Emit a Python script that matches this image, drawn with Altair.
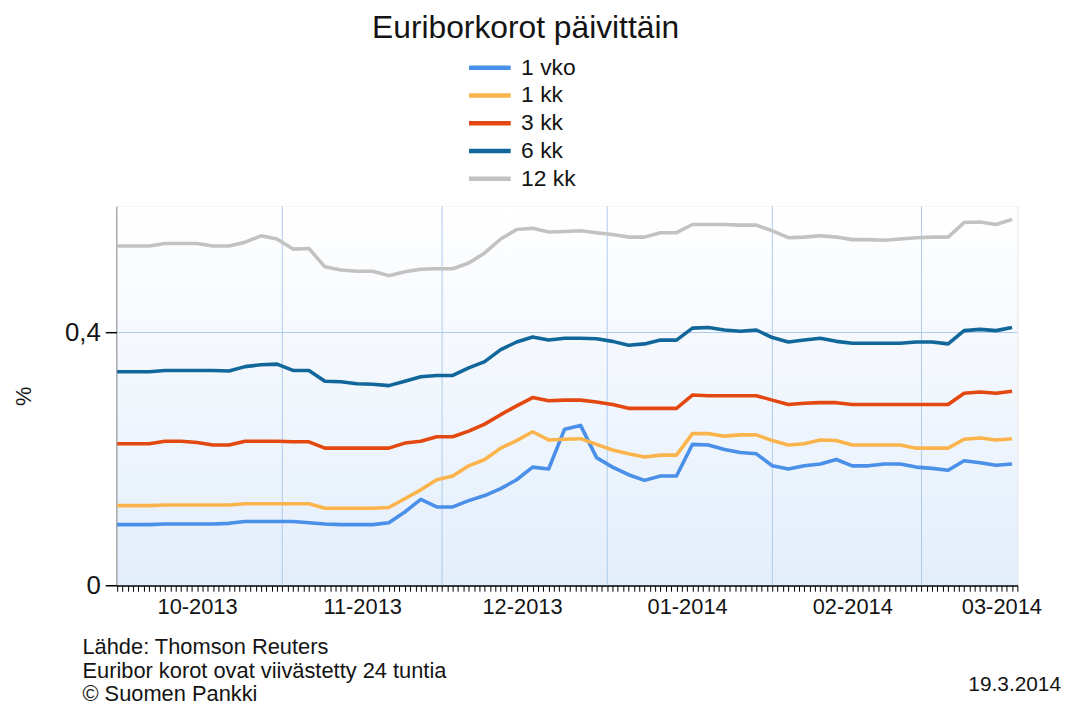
import altair as alt
import pandas as pd

# ---------------- data ----------------
series_names = ["1 vko", "1 kk", "3 kk", "6 kk", "12 kk"]
series_colors = ["#4a8fe8", "#fbb44c", "#e2480f", "#12679a", "#c2c2c2"]

# every third calendar day, 1.10.2013 ... 18.3.2014
dates = [d.strftime("%Y-%m-%d") for d in pd.date_range("2013-10-01", periods=57, freq="3D")]

vko1 = [0.096, 0.096, 0.096, 0.097, 0.097, 0.097, 0.097, 0.098, 0.101, 0.101,
        0.101, 0.101, 0.099, 0.097, 0.096, 0.096, 0.096, 0.099, 0.116, 0.136,
        0.124, 0.124, 0.134, 0.142, 0.153, 0.167, 0.187, 0.184, 0.247, 0.253,
        0.202, 0.187, 0.175, 0.166, 0.173, 0.173, 0.223, 0.222, 0.215, 0.210,
        0.208, 0.189, 0.184, 0.189, 0.192, 0.199, 0.189, 0.189, 0.192, 0.192,
        0.187, 0.185, 0.182, 0.197, 0.194, 0.190, 0.192]
kk1 = [0.126, 0.126, 0.126, 0.127, 0.127, 0.127, 0.127, 0.127, 0.129, 0.129,
       0.129, 0.129, 0.129, 0.122, 0.122, 0.122, 0.122, 0.123, 0.137, 0.151,
       0.167, 0.173, 0.189, 0.199, 0.217, 0.229, 0.243, 0.230, 0.231, 0.232,
       0.223, 0.214, 0.208, 0.203, 0.206, 0.206, 0.240, 0.240, 0.236, 0.238,
       0.238, 0.229, 0.222, 0.224, 0.230, 0.229, 0.222, 0.222, 0.222, 0.222,
       0.217, 0.217, 0.217, 0.231, 0.233, 0.230, 0.232]
kk3 = [0.224, 0.224, 0.224, 0.228, 0.228, 0.226, 0.222, 0.222, 0.228, 0.228,
       0.228, 0.227, 0.227, 0.217, 0.217, 0.217, 0.217, 0.217, 0.225, 0.228,
       0.235, 0.235, 0.244, 0.255, 0.270, 0.284, 0.297, 0.292, 0.293, 0.293,
       0.290, 0.286, 0.280, 0.280, 0.280, 0.280, 0.301, 0.300, 0.300, 0.300,
       0.300, 0.293, 0.286, 0.288, 0.289, 0.289, 0.286, 0.286, 0.286, 0.286,
       0.286, 0.286, 0.286, 0.304, 0.306, 0.304, 0.307]
kk6 = [0.338, 0.338, 0.338, 0.340, 0.340, 0.340, 0.340, 0.339, 0.346, 0.349,
       0.350, 0.340, 0.340, 0.323, 0.322, 0.319, 0.318, 0.316, 0.323, 0.330,
       0.332, 0.332, 0.344, 0.354, 0.373, 0.385, 0.393, 0.388, 0.391, 0.391,
       0.390, 0.386, 0.380, 0.382, 0.388, 0.388, 0.407, 0.408, 0.404, 0.402,
       0.404, 0.392, 0.385, 0.388, 0.391, 0.386, 0.383, 0.383, 0.383, 0.383,
       0.385, 0.385, 0.382, 0.403, 0.405, 0.403, 0.408]
kk12 = [0.537, 0.537, 0.537, 0.541, 0.541, 0.541, 0.537, 0.537, 0.543, 0.553,
        0.548, 0.532, 0.533, 0.504, 0.499, 0.497, 0.497, 0.490, 0.496, 0.500,
        0.501, 0.501, 0.510, 0.526, 0.548, 0.563, 0.565, 0.559, 0.560, 0.561,
        0.558, 0.555, 0.551, 0.551, 0.558, 0.558, 0.571, 0.571, 0.571, 0.570,
        0.570, 0.561, 0.550, 0.551, 0.553, 0.551, 0.547, 0.547, 0.546, 0.548,
        0.550, 0.551, 0.551, 0.574, 0.575, 0.571, 0.579]

month_starts = ["2013-11-01", "2013-12-01", "2014-01-01", "2014-02-01", "2014-03-01"]
y_ticks = [0, 0.4]
x_start, x_end = "2013-10-01", "2014-03-19"

title_text = "Euriborkorot päivittäin"
footer_lines = ["Lähde: Thomson Reuters", "Euribor korot ovat viivästetty 24 tuntia", "© Suomen Pankki"]
date_text = "19.3.2014"

# ---------------- build ----------------
W, H = 907, 382
FONT = "Liberation Sans"
TXT = "#141414"

rows = []
for name, vals in zip(series_names, [vko1, kk1, kk3, kk6, kk12]):
    for d, v in zip(dates, vals):
        rows.append({"pvm": d, "sarja": name, "korko": v})
df = pd.DataFrame(rows)

def ms(s):
    return int(pd.Timestamp(s).value // 10**6)

day_ticks = [ms(t) for t in pd.date_range(x_start, x_end, freq="D")]
x_scale = alt.Scale(type="utc", domain=[ms(x_start), ms(x_end)])
y_scale = alt.Scale(domain=[0, 0.6], nice=False, zero=True)

x_axis = alt.Axis(
    title=None, values=day_ticks, grid=False, tickCount=len(day_ticks),
    labelExpr="utcdate(datum.value) == 16 ? utcFormat(datum.value, '%m-%Y') : ''",
    labelOverlap=False, labelFlush=False, labelBound=False,
    tickSize=6, tickColor="#000000", tickWidth=1,
    domainColor="#000000", domainWidth=2,
    labelFont=FONT, labelFontSize=22, labelColor=TXT, labelPadding=5,
)
y_axis = alt.Axis(
    title="%", values=y_ticks, grid=False,
    labelExpr="datum.value == 0 ? '0' : replace(format(datum.value, '.1f'), '.', ',')",
    tickSize=12, tickColor="#000000", tickWidth=1.5,
    domainColor="#000000", domainWidth=2,
    labelFont=FONT, labelFontSize=26, labelColor=TXT, labelPadding=5,
    titleFont=FONT, titleFontSize=22, titleFontWeight="normal", titleColor=TXT,
    titleX=-82, titleY=191,
)

one = pd.DataFrame({"k": [0]})

bg = alt.Chart(one).mark_rect(
    fill=alt.Gradient(
        gradient="linear", x1=0, x2=0, y1=0, y2=1,
        stops=[alt.GradientStop(color="#ffffff", offset=0),
               alt.GradientStop(color="#e3eefb", offset=1)],
    )
).encode(x=alt.value(0), x2=alt.value(W), y=alt.value(0), y2=alt.value(H))

vgrid = alt.Chart(pd.DataFrame({"pvm": month_starts})).mark_rule(
    color="#aecbf0", strokeWidth=1
).encode(x=alt.X("pvm:T", scale=x_scale, axis=x_axis))

hgrid = alt.Chart(pd.DataFrame({"korko": y_ticks[1:]})).mark_rule(
    color="#aecbf0", strokeWidth=1
).encode(y=alt.Y("korko:Q", scale=y_scale, axis=y_axis))

lines = alt.Chart(df).mark_line(strokeWidth=3.6, strokeJoin="round").encode(
    x=alt.X("pvm:T", scale=x_scale, axis=x_axis),
    y=alt.Y("korko:Q", scale=y_scale, axis=y_axis),
    color=alt.Color(
        "sarja:N", sort=series_names,
        scale=alt.Scale(domain=series_names, range=series_colors),
        legend=alt.Legend(
            title=None, orient="none", legendX=362.5, legendY=-152.5,
            symbolType="M-2,0L2,0", symbolStrokeWidth=4.5, symbolSize=441,
            symbolFillColor="transparent",
            labelFont=FONT, labelFontSize=23, labelColor=TXT, labelOffset=18.5,
            rowPadding=3, padding=0,
        ),
    ),
)

footer = alt.Chart(one).mark_text(
    text=footer_lines, align="left", baseline="alphabetic", lineHeight=24,
    font=FONT, fontSize=22, color=TXT,
).encode(x=alt.value(-35), y=alt.value(451))

date_mark = alt.Chart(one).mark_text(
    text=date_text, align="right", baseline="alphabetic",
    font=FONT, fontSize=21, color=TXT,
).encode(x=alt.value(951), y=alt.value(489))

chart = alt.layer(bg, vgrid, hgrid, lines, footer, date_mark).properties(
    width=W, height=H,
    title=alt.TitleParams(
        title_text, font=FONT, fontSize=32, fontWeight="normal", color=TXT,
        anchor="middle", dx=-42, offset=-15.5, baseline="alphabetic",
    ),
    autosize="none",
    padding={"left": 110, "top": 197, "right": 49, "bottom": 119},
).configure_view(stroke="#aecbf0", strokeWidth=1).configure(background="white")

chart.save("out.html", embed_options={"renderer": "svg", "actions": False})
